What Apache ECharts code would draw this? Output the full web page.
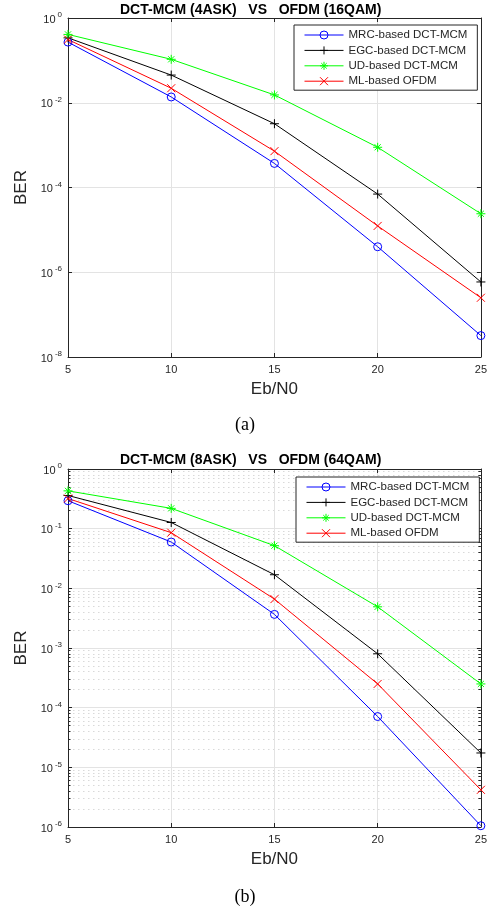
<!DOCTYPE html>
<html><head><meta charset="utf-8">
<script src="https://cdn.jsdelivr.net/npm/echarts@6/dist/echarts.min.js"></script>
<style>html,body{margin:0;padding:0;background:#fff}#c{width:490px;height:912px}</style>
</head><body><div id="c"></div>
<script>
// ---- data ----
const ebn0 = [5, 10, 15, 20, 25];
const xTicks = [5, 10, 15, 20, 25];
const yTicksA = [1e-8, 1e-6, 1e-4, 1e-2, 1];
const yTicksB = [1e-6, 1e-5, 1e-4, 1e-3, 1e-2, 1e-1, 1];
const seriesNames = ['MRC-based DCT-MCM', 'EGC-based DCT-MCM', 'UD-based DCT-MCM', 'ML-based OFDM'];
const titleA = 'DCT-MCM (4ASK)   VS   OFDM (16QAM)';
const titleB = 'DCT-MCM (8ASK)   VS   OFDM (64QAM)';
const captionA = '(a)';
const captionB = '(b)';
const xName = 'Eb/N0';
const yName = 'BER';

const mrcA = [0.27, 0.0137, 3.7e-4, 4.0e-6, 3.2e-8];
const egcA = [0.34, 0.045, 3.2e-3, 7.0e-5, 5.9e-7];
const udA  = [0.41, 0.106, 0.0153, 8.9e-4, 2.4e-5];
const mlA  = [0.31, 0.022, 7.2e-4, 1.24e-5, 2.5e-7];

const mrcB = [0.294, 0.0597, 3.66e-3, 7.1e-5, 1.05e-6];
const egcB = [0.36, 0.127, 0.0169, 8.0e-4, 1.74e-5];
const udB  = [0.43, 0.219, 0.0519, 4.9e-3, 2.5e-4];
const mlB  = [0.32, 0.0857, 6.6e-3, 2.5e-4, 4.2e-6];

// ---- styles ----
const colors = ['#0000ff', '#000000', '#00ff00', '#ff0000'];
const symbols = [
  'path://M10,5A5,5,0,1,1,0,5A5,5,0,1,1,10,5Z',
  'path://M0,5L10,5M5,0L5,10',
  'path://M0,5L10,5M5,0L5,10M1.6,1.6L8.4,8.4M1.6,8.4L8.4,1.6',
  'path://M0,0L10,10M0,10L10,0'
];
const symbolFills = ['rgba(0,0,0,0)', '#000000', '#00ff00', '#ff0000'];
const symbolSizes = [8, 9, 9, 8];
const axisColor = '#262626';
const gridColor = '#e3e3e3';
const font = 'Liberation Sans, Arial, Helvetica, sans-serif';

function supLabel(v) {
  const e = Math.round(Math.log10(v));
  return '{b|10}{s|' + e + '}';
}
const yLabelRich = {
  b: { fontSize: 11, lineHeight: 14, color: axisColor, fontFamily: font, verticalAlign: 'bottom' },
  s: { fontSize: 8, lineHeight: 8, color: axisColor, fontFamily: font, verticalAlign: 'top', padding: [0, 0, 0, 2] }
};

function xAxes(gi) {
  return [
    { gridIndex: gi, type: 'value', min: xTicks[0], max: xTicks[xTicks.length - 1], interval: 5, position: 'bottom',
      axisLine: { show: true, lineStyle: { color: axisColor, width: 1 } },
      axisTick: { show: true, inside: true, length: 4, lineStyle: { color: axisColor } },
      axisLabel: { show: true, color: axisColor, fontSize: 11, fontFamily: font, margin: 7 },
      splitLine: { show: true, lineStyle: { color: gridColor, width: 1 } },
      name: xName, nameLocation: 'middle', nameGap: 24,
      nameTextStyle: { fontSize: 17, color: axisColor, fontFamily: font } },
    { gridIndex: gi, type: 'value', min: xTicks[0], max: xTicks[xTicks.length - 1], interval: 5, position: 'top',
      axisLine: { show: true, lineStyle: { color: axisColor, width: 1 } },
      axisTick: { show: true, inside: true, length: 4, lineStyle: { color: axisColor } },
      axisLabel: { show: false }, splitLine: { show: false } }
  ];
}
function yAxes(gi, ticks, minor) {
  const common = { gridIndex: gi, type: 'log', logBase: 10, min: ticks[0], max: ticks[ticks.length - 1], splitNumber: ticks.length - 1 };
  const minorTick = minor ? { show: true, splitNumber: 9, length: 2.5, lineStyle: { color: axisColor } } : { show: false };
  return [
    Object.assign({}, common, { position: 'left',
      axisLine: { show: true, lineStyle: { color: axisColor, width: 1 } },
      axisTick: { show: true, inside: true, length: 4, lineStyle: { color: axisColor }, customValues: ticks },
      minorTick: minorTick,
      minorSplitLine: minor ? { show: true, lineStyle: { color: '#d9d9d9', type: [1.5, 3.5], width: 1 } } : { show: false },
      axisLabel: { show: true, formatter: supLabel, rich: yLabelRich, margin: 6, customValues: ticks },
      splitLine: { show: true, lineStyle: { color: gridColor, width: 1 } },
      name: yName, nameLocation: 'middle', nameGap: 33, nameRotate: 90,
      nameTextStyle: { fontSize: 17, color: axisColor, fontFamily: font } }),
    Object.assign({}, common, { position: 'right',
      axisLine: { show: true, lineStyle: { color: axisColor, width: 1 } },
      axisTick: { show: true, inside: true, length: 4, lineStyle: { color: axisColor }, customValues: ticks },
      minorTick: minorTick,
      axisLabel: { show: false }, splitLine: { show: false } })
  ];
}

function makeSeries(arrays, xi, yi) {
  return arrays.map((arr, k) => ({
    name: seriesNames[k], type: 'line', xAxisIndex: xi, yAxisIndex: yi,
    data: ebn0.map((x, i) => [x, arr[i]]),
    color: colors[k],
    symbol: symbols[k], symbolSize: symbolSizes[k], showSymbol: true,
    lineStyle: { color: colors[k], width: 1 },
    itemStyle: { color: symbolFills[k], borderColor: colors[k], borderWidth: 1 },
    clip: false, z: 3
  }));
}

function legend(left, top) {
  return {
    data: seriesNames, orient: 'vertical', left: left, top: top,
    itemWidth: 39, itemHeight: 10, itemGap: 3.4,
    padding: [4, 10, 3, 10],
    backgroundColor: '#ffffff', borderColor: axisColor, borderWidth: 1, borderRadius: 0,
    lineStyle: { width: 1 },
    itemStyle: { borderWidth: 1 },
    textStyle: { fontSize: 11.5, color: axisColor, fontFamily: font },
    selectedMode: false, z: 10
  };
}

const chart = echarts.init(document.getElementById('c'), null, { renderer: 'canvas' });
chart.setOption({
  animation: false,
  backgroundColor: '#ffffff',
  title: [
    { text: titleA, left: 120, top: 3, padding: 0, textStyle: { fontSize: 14, fontWeight: 'bold', color: '#000', fontFamily: font } },
    { text: captionA, left: 'center', top: 416, padding: 0, textStyle: { fontSize: 18, fontWeight: 'normal', color: '#000', fontFamily: 'Liberation Serif, Times New Roman, serif' } },
    { text: titleB, left: 120, top: 453, padding: 0, textStyle: { fontSize: 14, fontWeight: 'bold', color: '#000', fontFamily: font } },
    { text: captionB, left: 'center', top: 888, padding: 0, textStyle: { fontSize: 18, fontWeight: 'normal', color: '#000', fontFamily: 'Liberation Serif, Times New Roman, serif' } }
  ],
  legend: [legend(294, 25), legend(296, 477)],
  grid: [
    { left: 68, right: 6, top: 18, height: 339, containLabel: false },
    { left: 68, right: 6, top: 469, height: 358, containLabel: false }
  ],
  xAxis: [].concat(xAxes(0), xAxes(1)),
  yAxis: [].concat(yAxes(0, yTicksA, false), yAxes(1, yTicksB, true)),
  series: [].concat(makeSeries([mrcA, egcA, udA, mlA], 0, 0), makeSeries([mrcB, egcB, udB, mlB], 2, 2))
});
</script>
</body></html>
